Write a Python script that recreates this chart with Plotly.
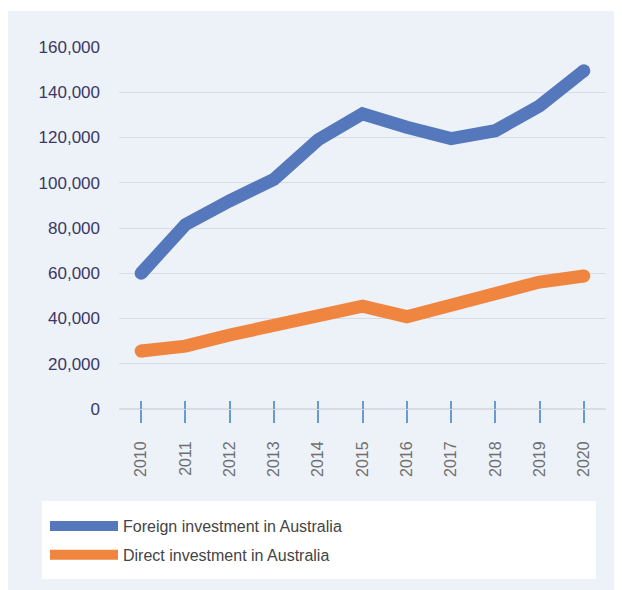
import plotly.graph_objects as go

years = ["2010", "2011", "2012", "2013", "2014", "2015", "2016", "2017", "2018", "2019", "2020"]
foreign = [60000, 81500, 92000, 101500, 119000, 130500, 124500, 119500, 123000, 134000, 149500]
direct = [25600, 27800, 32700, 36700, 41500, 45500, 40800, 46000, 52300, 56100, 58800]
y_ticks = [0, 20000, 40000, 60000, 80000, 100000, 120000, 140000, 160000]
y_labels = ["0", "20,000", "40,000", "60,000", "80,000", "100,000", "120,000", "140,000", "160,000"]

BLUE = "#5577bb"
ORANGE = "#f08540"
LW = 13

# round caps only at the line ends
cap_sizes = [LW] + [0] * (len(years) - 2) + [LW]

fig = go.Figure()
for name, vals, col, grp in [("Foreign investment in Australia", foreign, BLUE, "f"),
                             ("Direct investment in Australia", direct, ORANGE, "d")]:
    fig.add_trace(go.Scatter(x=years, y=vals, legendgroup=grp, showlegend=False,
                             mode="markers", opacity=1,
                             marker=dict(color=col, size=cap_sizes, opacity=1,
                                         line=dict(width=0)),
                             cliponaxis=False, hoverinfo="skip"))
    fig.add_trace(go.Scatter(x=years, y=vals, name=name, legendgroup=grp,
                             mode="lines", line=dict(color=col, width=LW),
                             cliponaxis=False))
# invisible trace on overlay axis for the inner half of tick marks
fig.add_trace(go.Scatter(x=years, y=direct, xaxis="x2", mode="lines",
                         line=dict(color="rgba(0,0,0,0)"), showlegend=False,
                         hoverinfo="skip"))

OFF = 8  # page body margin
W, H = 622 - OFF, 590 - OFF
L, T = 119 - OFF, 47 - OFF
R = W - (606 - OFF)
B = H - (409 - OFF)
pw, ph = W - L - R, H - T - B

def px(x):
    return (x - OFF - L) / pw

def py(y):
    return (H - B - (y - OFF)) / ph

fig.add_shape(type="rect", xref="paper", yref="paper", x0=px(8), x1=px(640),
              y0=py(620), y1=py(11), fillcolor="#edf1f8", line_width=0, layer="below")
fig.add_shape(type="rect", xref="paper", yref="paper", x0=px(42), x1=px(596),
              y0=py(579), y1=py(501), fillcolor="#ffffff", line_width=0, layer="below")

tick_color = "#6a9ad0"
fig.update_layout(
    width=W, height=H,
    margin=dict(l=L, r=R, t=T, b=B),
    paper_bgcolor="#ffffff",
    plot_bgcolor="rgba(0,0,0,0)",
    font=dict(family="Liberation Sans, Arial, sans-serif"),
    showlegend=True,
    legend=dict(x=px(45), y=py(509), xanchor="left", yanchor="top",
                bgcolor="rgba(0,0,0,0)", font=dict(size=16, color="#444444"),
                itemwidth=68, tracegroupgap=5, traceorder="grouped"),
    xaxis=dict(type="category", categoryorder="array", categoryarray=years,
               range=[-0.5, 10.5], showgrid=False, zeroline=False, showline=False,
               ticks="outside", ticklen=13, tickwidth=1.5, tickcolor=tick_color,
               tickangle=-90, tickfont=dict(size=16, color="#6f6f6f"),
               ticklabelstandoff=12),
    xaxis2=dict(type="category", categoryorder="array", categoryarray=years,
                range=[-0.5, 10.5], overlaying="x", anchor="y", side="bottom",
                showgrid=False, zeroline=False, showline=False, showticklabels=False,
                ticks="inside", ticklen=8, tickwidth=1.5, tickcolor=tick_color),
    yaxis=dict(range=[0, 160000], tickvals=y_ticks, ticktext=y_labels,
               showgrid=True, gridcolor="#d9dde3", gridwidth=1,
               zeroline=True, zerolinecolor="#d9dde3", zerolinewidth=1.5,
               tickfont=dict(size=17, color="#3b3866"), ticklabelstandoff=18,
               showline=False),
)

fig.write_html("out.html")
